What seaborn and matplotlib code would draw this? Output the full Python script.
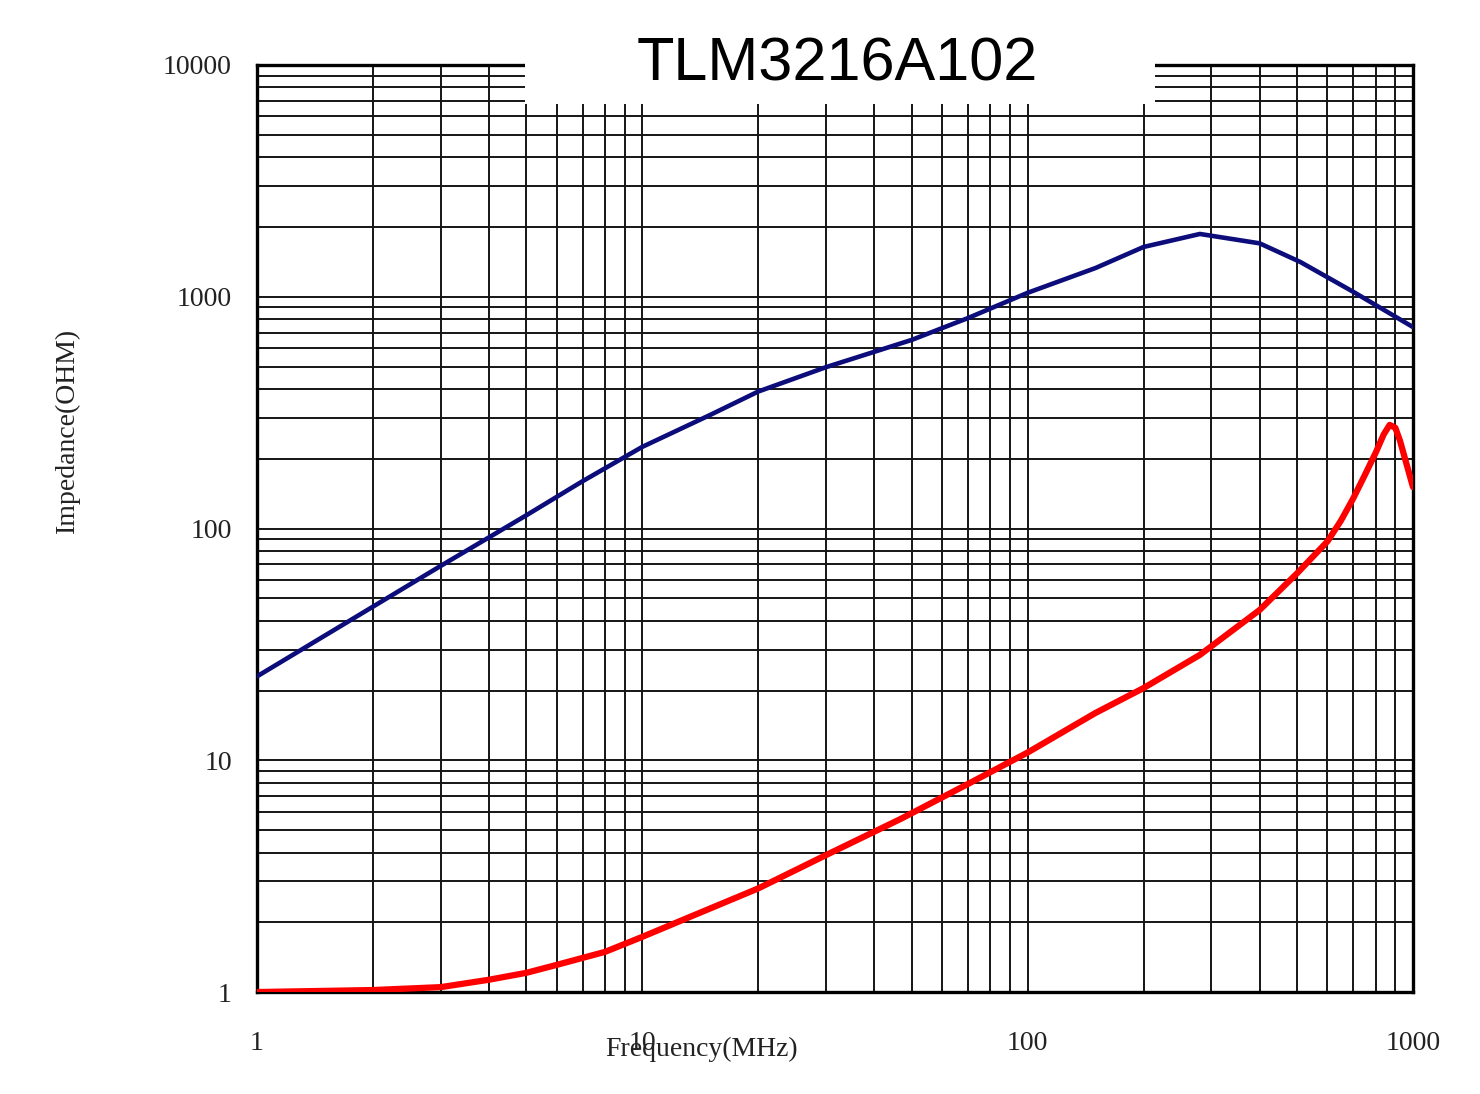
import pandas as pd
import matplotlib
matplotlib.use("Agg")
from matplotlib import pyplot as plt
from matplotlib.ticker import FixedLocator, NullFormatter, FixedFormatter
from matplotlib.patches import Rectangle
import seaborn as sns

sns.set_style("white")
plt.rcParams['font.family'] = ['Liberation Serif', 'DejaVu Serif']

# impedance |Z| (blue) and resistance R (red)
z_freq = [1, 2, 3, 5, 7, 10, 15, 20, 30, 50, 70, 100, 150, 200, 280, 400, 510, 700, 1000]
z_ohm = [23, 46, 69, 114, 160, 225, 309, 390, 497, 651, 809, 1040, 1330, 1640, 1866, 1700, 1413, 1050, 740]

r_freq = [1, 2, 3, 4, 5, 6, 8, 10, 13.3, 20, 30, 47, 70, 100, 150, 200, 280,
          400, 500, 600, 650, 700, 750, 800, 840, 870, 900, 925, 1000]
r_ohm = [1.0, 1.02, 1.05, 1.13, 1.21, 1.31, 1.49, 1.73, 2.11, 2.8, 3.9, 5.6, 7.9, 10.8, 16,
         20.5, 28.5, 44.5, 64, 88, 108, 135, 170, 212, 255, 280, 272, 240, 151]

x_ticks = [1, 10, 100, 1000]
x_labels = ['1', '10', '100', '1000']
y_ticks = [1, 10, 100, 1000, 10000]
y_labels = ['1', '10', '100', '1000', '10000']

title = 'TLM3216A102'

df_z = pd.DataFrame({'freq': z_freq, 'ohm': z_ohm})
df_r = pd.DataFrame({'freq': r_freq, 'ohm': r_ohm})

fig = plt.figure(figsize=(14.8, 10.94), dpi=100)
ax = fig.add_axes([0.1736, 0.0932, 0.7811, 0.8474])

sns.lineplot(data=df_z, x='freq', y='ohm', ax=ax, color='#0c0c7a', linewidth=3.3, zorder=4)
sns.lineplot(data=df_r, x='freq', y='ohm', ax=ax, color='#ff0000', linewidth=4.5, zorder=4)

ax.set_xscale('log')
ax.set_yscale('log')
ax.set_xlim(1, 1000)
ax.set_ylim(1, 10000)

minors = [m * 10 ** d for d in range(0, 4) for m in range(2, 10)]
ax.xaxis.set_major_locator(FixedLocator(x_ticks))
ax.xaxis.set_major_formatter(FixedFormatter(x_labels))
ax.xaxis.set_minor_locator(FixedLocator([v for v in minors if v < 1000]))
ax.xaxis.set_minor_formatter(NullFormatter())
ax.yaxis.set_major_locator(FixedLocator(y_ticks))
ax.yaxis.set_major_formatter(FixedFormatter(y_labels))
ax.yaxis.set_minor_locator(FixedLocator(minors))
ax.yaxis.set_minor_formatter(NullFormatter())

ax.grid(which='both', color='#151515', linewidth=1.4)
ax.tick_params(which='both', length=0)
ax.tick_params(axis='x', pad=28, labelsize=20, labelcolor='#222222')
ax.tick_params(axis='y', pad=18, labelsize=20, labelcolor='#222222')

for s in ax.spines.values():
    s.set_visible(True)
    s.set_color('black')
    s.set_linewidth(2.4)

# white block behind the title, cutting the top grid
ax.add_patch(Rectangle((0.232, 0.958), 0.545, 0.06, transform=ax.transAxes,
                       facecolor='white', edgecolor='none', zorder=3, clip_on=False))
ax.text(0.502, 1.0, title, transform=ax.transAxes, ha='center', va='center',
        fontsize=44, color='black', family=['Liberation Sans', 'DejaVu Sans'], zorder=5)

ax.set_xlabel('Frequency(MHz)', fontsize=20, color='#222222')
ax.xaxis.set_label_coords(0.385, -0.048)
ax.set_ylabel('Impedance(OHM)', fontsize=20, color='#222222')
ax.yaxis.set_label_coords(-0.153, 0.606)

fig.savefig('out.png', dpi=100)
